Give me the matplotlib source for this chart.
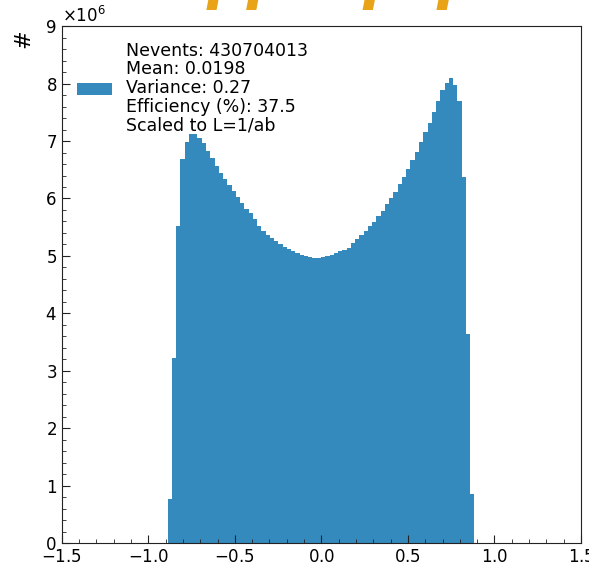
import numpy as np
import matplotlib
matplotlib.use("Agg")
import matplotlib.pyplot as plt
from matplotlib.ticker import AutoMinorLocator

plt.rcParams["axes.formatter.use_mathtext"] = True

# bin edges of the cos(theta) histogram (72 bins)
edges = np.linspace(-0.888, 0.884, 73)

# bin contents, in units of 1e6
counts_e6 = [
    0.77, 3.22, 5.52, 6.68, 6.99, 7.12, 7.12, 7.05, 6.96, 6.83,
    6.70, 6.57, 6.45, 6.34, 6.23, 6.13, 6.03, 5.93, 5.82, 5.74,
    5.65, 5.52, 5.44, 5.37, 5.31, 5.26, 5.21, 5.16, 5.12, 5.08,
    5.05, 5.02, 5.00, 4.98, 4.97, 4.97, 4.98, 5.00, 5.02, 5.05,
    5.08, 5.11, 5.14, 5.23, 5.29, 5.36, 5.43, 5.52, 5.59, 5.69,
    5.78, 5.90, 6.00, 6.12, 6.25, 6.38, 6.52, 6.67, 6.81, 6.98,
    7.15, 7.32, 7.51, 7.70, 7.88, 8.01, 8.09, 7.98, 7.70, 6.37,
    3.65, 0.86,
]

nevents = 430704013
mean = 0.0198
variance = 0.27
efficiency = 37.5
lumi = "1/ab"

title = "γγ → μ⁺μ⁻"

counts = np.array(counts_e6) * 1e6
centers = 0.5 * (edges[:-1] + edges[1:])

fig = plt.figure(figsize=(5.89, 5.67), dpi=100)
ax = fig.add_axes([0.1048, 0.0418, 0.8816, 0.9122])

label = ("Nevents: %d\nMean: %.4f\nVariance: %.2f\nEfficiency (%%): %.1f\nScaled to L=%s"
         % (nevents, mean, variance, efficiency, lumi))
ax.hist(centers, bins=edges, weights=counts, color="#348ABD", label=label)

ax.set_xlim(-1.5, 1.5)
ax.set_ylim(0, 9e6)
ax.set_xticks([-1.5, -1.0, -0.5, 0.0, 0.5, 1.0, 1.5])
ax.xaxis.set_minor_locator(AutoMinorLocator(5))
ax.yaxis.set_minor_locator(AutoMinorLocator(5))
ax.ticklabel_format(axis="y", style="sci", scilimits=(6, 6))
ax.yaxis.get_offset_text().set_fontsize(12)

ax.tick_params(which="both", direction="in", labelsize=12, color="#222222")
ax.tick_params(which="major", length=5.5)
ax.tick_params(which="minor", length=3)
for s in ax.spines.values():
    s.set_color("#222222")

ax.set_ylabel("#", fontsize=16)
ax.yaxis.set_label_coords(-0.055, 0.975)

leg = ax.legend(loc="upper left", frameon=False, fontsize=12.5)
for t in leg.get_texts():
    t.set_linespacing(1.05)

fig.text(0.60, 1.003, title, color="#E8A317", fontsize=42,
         fontweight="bold", fontstyle="italic", ha="center", va="baseline")

fig.savefig("out.png", dpi=100)
